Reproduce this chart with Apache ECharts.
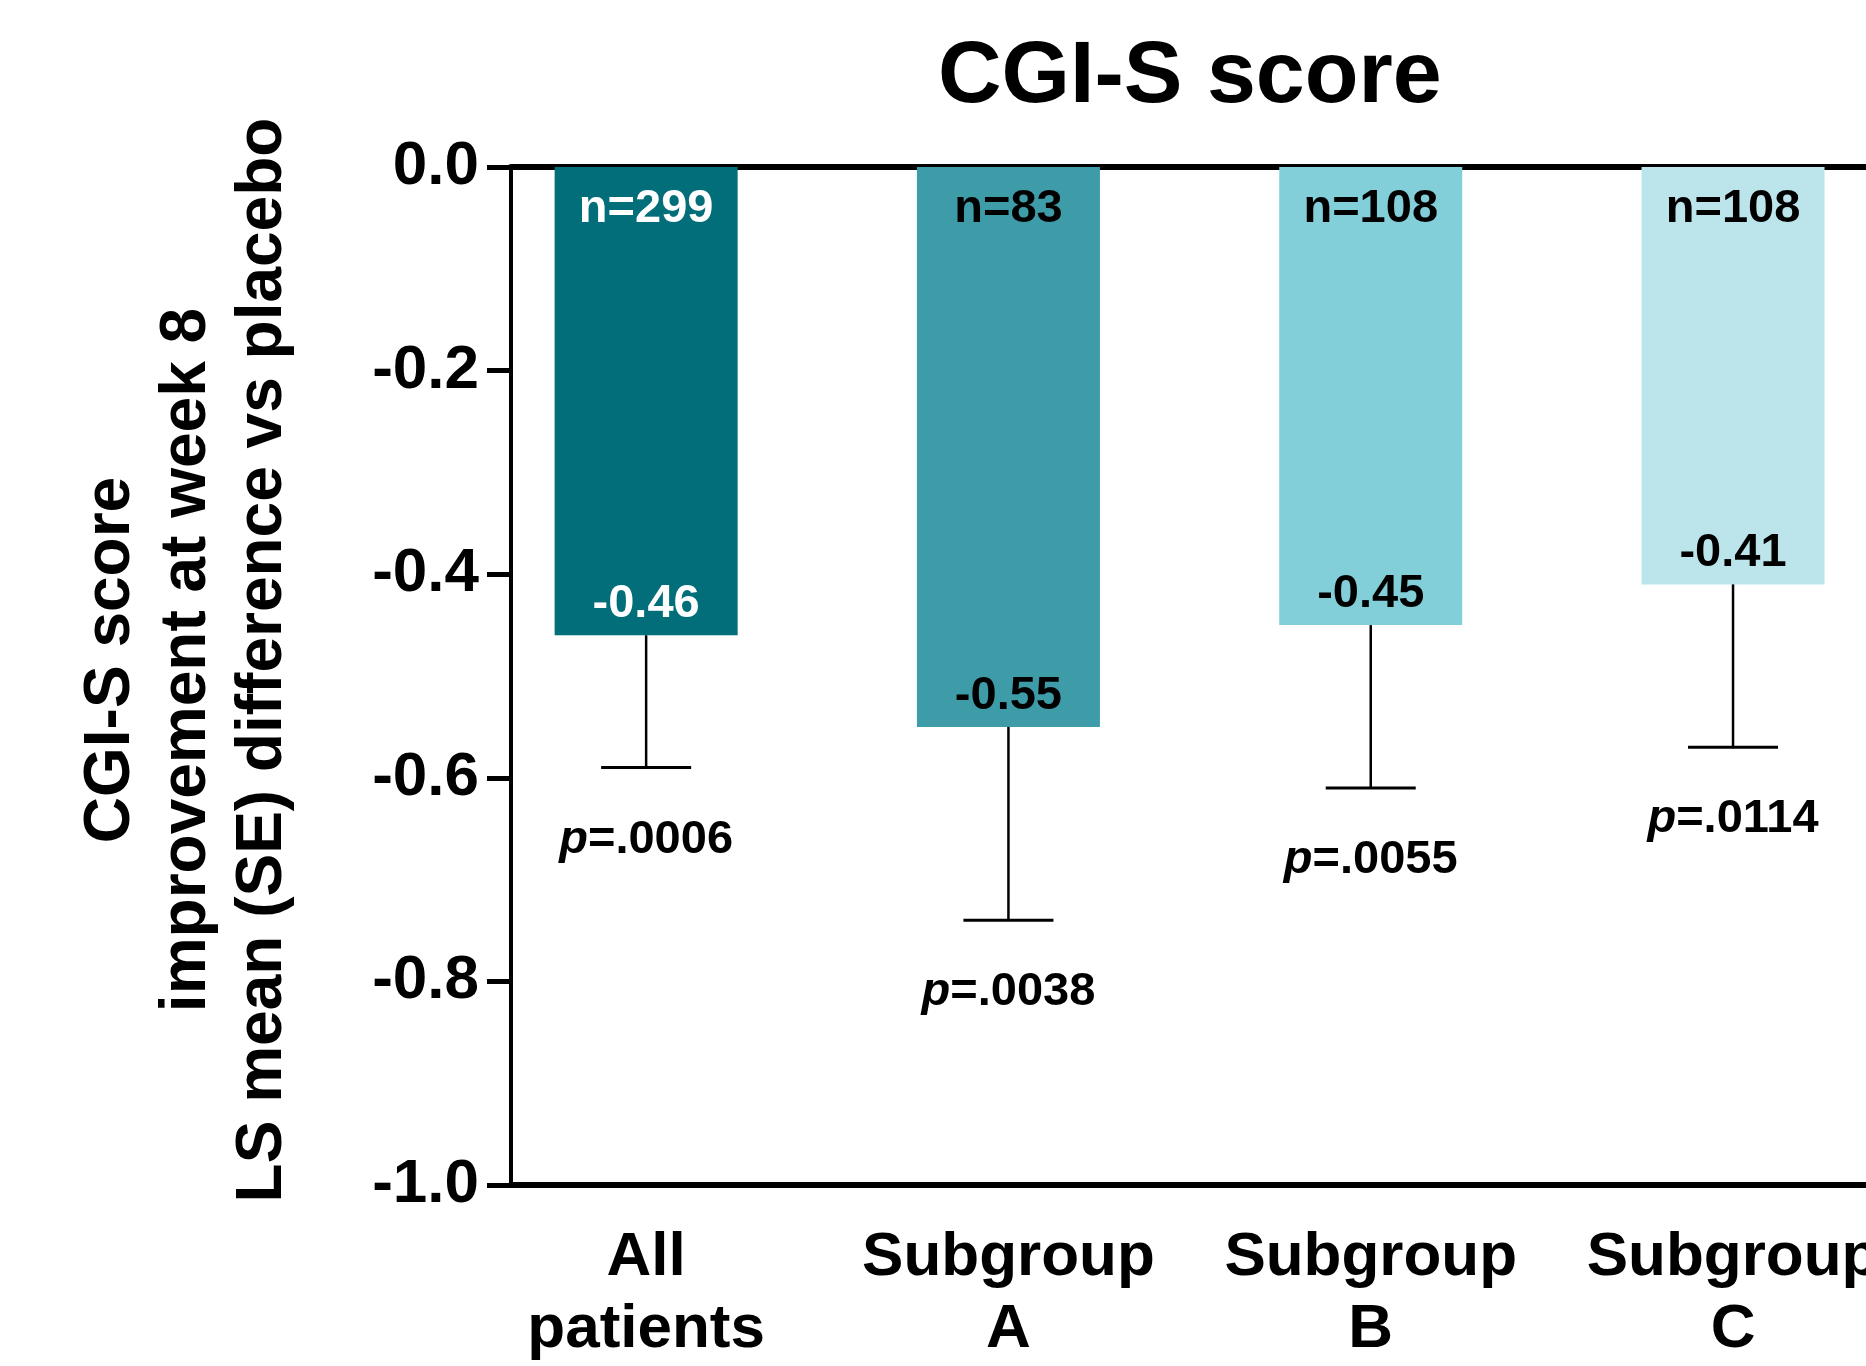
<!DOCTYPE html>
<html>
<head>
<meta charset="utf-8">
<script src="https://cdn.jsdelivr.net/npm/echarts@6/dist/echarts.min.js"></script>
<style>
  html, body { margin: 0; padding: 0; background: #fff; }
  #cgiChart { width: 1866px; height: 1366px; }
</style>
</head>
<body>
<div id="cgiChart"></div>
<script>
// data
var categories = ['All\npatients', 'Subgroup\nA', 'Subgroup\nB', 'Subgroup\nC'];
var lsMeans = [-0.46, -0.55, -0.45, -0.41];
var seValues = [0.13, 0.19, 0.16, 0.16];
var nValues = [299, 83, 108, 108];
var pValues = ['.0006', '.0038', '.0055', '.0114'];
var yTicks = [-1.0, -0.8, -0.6, -0.4, -0.2, 0.0];

var barColors = ['#026e7a', '#3e9ba8', '#82cfd9', '#bce5eb'];
var inBarTextColors = ['#ffffff', '#000000', '#000000', '#000000'];
var FONT = '"Liberation Sans", Arial, Helvetica, sans-serif';

var myChart = echarts.init(document.getElementById('cgiChart'));

function renderErr(params, api) {
    var i = params.dataIndex;
    var x = api.value(0);
    var mean = api.value(1);
    var lo = mean - seValues[i];
    var zero = api.coord([x, 0]);
    var bot = api.coord([x, mean]);
    var end = api.coord([x, lo]);
    var txt = { fontSize: 47, fontWeight: 'bold', fontFamily: FONT, align: 'center', verticalAlign: 'middle' };
    return {
        type: 'group',
        children: [
            { type: 'line', shape: { x1: bot[0], y1: bot[1], x2: end[0], y2: end[1] }, style: { stroke: '#000', lineWidth: 2.5 } },
            { type: 'line', shape: { x1: end[0] - 45, y1: end[1], x2: end[0] + 45, y2: end[1] }, style: { stroke: '#000', lineWidth: 3 } },
            { type: 'text', x: zero[0], y: zero[1] + 42, style: Object.assign({ text: 'n=' + nValues[i], fill: inBarTextColors[i] }, txt) },
            { type: 'text', x: bot[0], y: bot[1] - 31, style: Object.assign({ text: mean.toFixed(2), fill: inBarTextColors[i] }, txt) },
            { type: 'text', x: end[0], y: end[1] + 72, style: Object.assign({
                text: '{it|p}=' + pValues[i], fill: '#000',
                rich: { it: { fontStyle: 'italic', fontWeight: 'bold', fontSize: 47, fontFamily: FONT, fill: '#000' } }
            }, txt) }
        ]
    };
}

var xMin = -0.373, xMax = 3.367;

var option = {
    backgroundColor: '#fff',
    animation: false,
    title: {
        text: 'CGI-S score',
        left: 938, top: 34, padding: 0,
        textStyle: { fontSize: 88, fontWeight: 'bold', color: '#000', fontFamily: FONT, lineHeight: 88 }
    },
    grid: { left: 511, right: 0, top: 167, bottom: 181, containLabel: false, outerBoundsMode: 'none' },
    xAxis: [{
        type: 'value', min: xMin, max: xMax, position: 'bottom',
        axisLine: { show: true, onZero: false, lineStyle: { color: '#000', width: 6 } },
        axisTick: { show: false },
        splitLine: { show: false },
        axisLabel: {
            customValues: [0, 1, 2, 3],
            formatter: function (v) { return categories[Math.round(v)]; },
            fontSize: 62, fontWeight: 'bold', fontFamily: FONT, color: '#000',
            lineHeight: 72, margin: 37
        }
    }, {
        type: 'value', min: xMin, max: xMax, position: 'top',
        axisLine: { show: true, onZero: false, lineStyle: { color: '#000', width: 6 } },
        axisTick: { show: false },
        splitLine: { show: false },
        axisLabel: { show: false }
    }],
    yAxis: {
        type: 'value', min: yTicks[0], max: yTicks[yTicks.length - 1], interval: 0.2,
        name: 'CGI-S score\nimprovement at week 8\nLS mean (SE) difference vs placebo',
        nameLocation: 'middle', nameRotate: 90, nameGap: 210, nameMoveOverlap: false,
        nameTextStyle: { fontSize: 64, fontWeight: 'bold', fontFamily: FONT, color: '#000', lineHeight: 76, padding: [0, 0, 0, 32] },
        axisLine: { show: true, onZero: false, lineStyle: { color: '#000', width: 4 } },
        axisTick: { show: true, length: 24, lineStyle: { color: '#000', width: 5 } },
        splitLine: { show: false },
        axisLabel: {
            formatter: function (v) { return v.toFixed(1); },
            fontSize: 62, fontWeight: 'bold', fontFamily: FONT, color: '#000', margin: 32,
            padding: [9, 0, 0, 0]
        }
    },
    series: [{
        name: 'LS mean',
        type: 'bar',
        barWidth: 183,
        data: lsMeans.map(function (v, i) { return { value: [i, v], itemStyle: { color: barColors[i] } }; })
    }, {
        name: 'SE',
        type: 'custom',
        renderItem: renderErr,
        data: lsMeans.map(function (v, i) { return [i, v]; }),
        z: 5
    }]
};

myChart.setOption(option);
</script>
</body>
</html>
